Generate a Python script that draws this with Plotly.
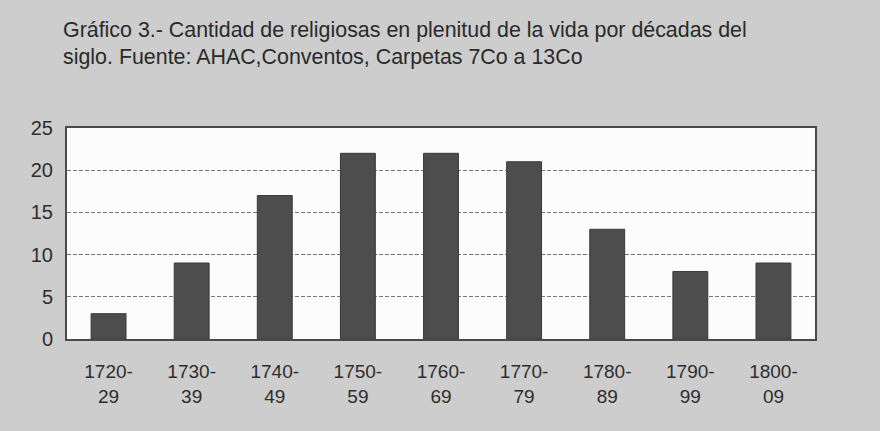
import plotly.graph_objects as go

decades = ["1720-<br>29", "1730-<br>39", "1740-<br>49", "1750-<br>59", "1760-<br>69",
           "1770-<br>79", "1780-<br>89", "1790-<br>99", "1800-<br>09"]
religiosas = [3, 9, 17, 22, 22, 21, 13, 8, 9]
y_ticks = [0, 5, 10, 15, 20, 25]

title_lines = ["Gráfico 3.- Cantidad de religiosas en plenitud de la vida por décadas del",
               "siglo. Fuente: AHAC,Conventos, Carpetas 7Co a 13Co"]

W, H = 880, 431
ML, MR, MT, MB = 67, 65, 128, 92
PH = H - MT - MB

fig = go.Figure()
fig.add_trace(go.Bar(
    x=decades, y=religiosas,
    marker=dict(color="#4d4d4d", line=dict(color="#3a3a3a", width=1)),
    width=0.42,
))

fig.update_layout(
    width=W, height=H,
    paper_bgcolor="#cdcdcd",
    plot_bgcolor="#fcfcfc",
    margin=dict(l=ML, r=MR, t=MT, b=MB),
    showlegend=False,
    font=dict(family="Liberation Sans, Arial, sans-serif", color="#2e2e2e"),
)

for i, line in enumerate(title_lines):
    ycen = 30 + 27 * i
    fig.add_annotation(
        text=line, xref="paper", yref="paper",
        x=(61 - ML) / (W - ML - MR), y=1 + (MT - ycen) / PH,
        xanchor="left", yanchor="middle", showarrow=False,
        font=dict(size=21.4, color="#2a2a2a", family="Liberation Sans, Arial, sans-serif"),
    )

fig.update_xaxes(
    type="category", showgrid=False, ticks="",
    showline=True, linecolor="#4a4a4a", linewidth=2, mirror=True,
    tickfont=dict(size=19, color="#2e2e2e"),
    ticklabelstandoff=14,
)
fig.update_yaxes(
    range=[0, 25], tickvals=y_ticks, ticks="",
    showgrid=True, gridcolor="#777777", griddash="4px,2px", gridwidth=1,
    showline=True, linecolor="#4a4a4a", linewidth=2, mirror=True,
    zeroline=False,
    tickfont=dict(size=20, color="#2e2e2e"),
    ticklabelstandoff=8,
)

fig.write_html("out.html",
               config={"displayModeBar": False},
               post_script="document.body.style.margin='0';document.body.style.background='#cdcdcd';")
